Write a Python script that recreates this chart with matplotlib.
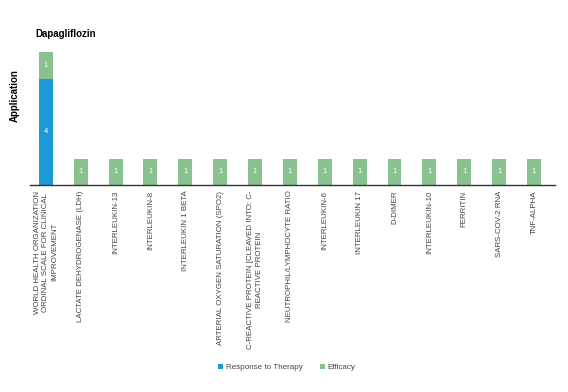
import numpy as np
import matplotlib.pyplot as plt

plt.rcParams['font.family'] = ['Liberation Sans', 'DejaVu Sans']

categories = [
    'WORLD HEALTH ORGANIZATION\nORDINAL SCALE FOR CLINICAL\nIMPROVEMENT',
    'LACTATE DEHYDROGENASE (LDH)',
    'INTERLEUKIN-13',
    'INTERLEUKIN-8',
    'INTERLEUKIN 1 BETA',
    'ARTERIAL OXYGEN SATURATION (SPO2)',
    'C-REACTIVE PROTEIN [CLEAVED INTO: C-\nREACTIVE PROTEIN',
    'NEUTROPHIL/LYMPHOCYTE RATIO',
    'INTERLEUKIN-6',
    'INTERLEUKIN 17',
    'D-DIMER',
    'INTERLEUKIN-10',
    'FERRITIN',
    'SARS-COV-2 RNA',
    'TNF-ALPHA',
]
response = [4, 0, 0, 0, 0, 0, 0, 0, 0, 0, 0, 0, 0, 0, 0]
efficacy = [1, 1, 1, 1, 1, 1, 1, 1, 1, 1, 1, 1, 1, 1, 1]

blue = '#1b9ad6'
green = '#89c191'

fig = plt.figure(figsize=(5.68, 3.92), dpi=100)
ax = fig.add_axes([0.053, 0.528, 0.924, 0.345])

x = np.arange(len(categories))
w = 0.4
resp = np.array(response)
eff = np.array(efficacy)
ax.bar(x, resp, w, color=blue, label='Response to Therapy')
ax.bar(x, eff, w, bottom=resp, color=green, label='Efficacy')

# value labels inside the segments
for i in range(len(x)):
    if resp[i] > 0:
        ax.text(x[i], resp[i] / 2, str(resp[i]), ha='center', va='center',
                color='white', fontsize=5.5)
    if eff[i] > 0:
        ax.text(x[i], resp[i] + eff[i] / 2, str(eff[i]), ha='center',
                va='center', color='white', fontsize=5.5)

ax.set_xlim(-0.45, len(x) - 0.4)
ax.set_ylim(0, 5.1)
ax.set_xticks(x)
ax.set_xticklabels(categories, rotation=90, fontsize=5.7, color='#444444',
                   ha='center', va='top', multialignment='center',
                   linespacing=1.35)
ax.tick_params(axis='x', length=0, pad=4)
ax.set_yticks([])
for s in ['top', 'right', 'left']:
    ax.spines[s].set_visible(False)
ax.spines['bottom'].set_color('#333333')
ax.spines['bottom'].set_linewidth(1.0)

ax.set_ylabel('Application', fontsize=7, fontweight='bold')
ax.yaxis.set_label_coords(-0.02, 0.66)
fig.text(0.062, 0.913, 'Dapagliflozin', fontsize=7, fontweight='bold',
         va='center')

fig.legend(loc='lower center', bbox_to_anchor=(0.505, 0.035), ncol=2,
           frameon=False, fontsize=5.8, handlelength=0.6, handleheight=0.6,
           handletextpad=0.3, columnspacing=2.2, labelcolor='#444444')

fig.savefig('out.png', dpi=100)
